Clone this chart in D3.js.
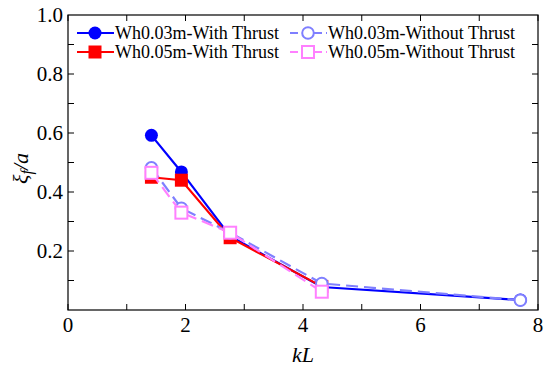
<!DOCTYPE html>
<html>
<head>
<meta charset="utf-8">
<script src="https://cdn.jsdelivr.net/npm/d3@7"></script>
</head>
<body style="margin:0;background:#fff">
<div id="chart"></div>
<script>
// data
var kL = [1.42, 1.93, 2.76, 4.32, 7.70];
var wh03With = [0.592, 0.468, 0.250, 0.078, 0.034];
var wh05With = [0.450, 0.440, 0.245, 0.080];
var wh03Without = [0.482, 0.345, 0.262, 0.090, 0.033];
var wh05Without = [0.465, 0.330, 0.262, 0.062];
var xTicks = [0, 2, 4, 6, 8];
var yTicks = [0.2, 0.4, 0.6, 0.8, 1.0];

var series = [
    {name: "Wh0.03m-With Thrust", vals: wh03With, color: "#0000ff", shape: "circle", filled: true, dash: null},
    {name: "Wh0.05m-With Thrust", vals: wh05With, color: "#ff0000", shape: "square", filled: true, dash: null},
    {name: "Wh0.03m-Without Thrust", vals: wh03Without, color: "#7f7fff", shape: "circle", filled: false, dash: "12,6"},
    {name: "Wh0.05m-Without Thrust", vals: wh05Without, color: "#ff80ff", shape: "square", filled: false, dash: "12,6"}
];

// serif text, forced inline
function serif(size, italic) {
    return "font-family: 'Liberation Serif', serif !important; font-size: " + size + "px !important;" +
        (italic ? " font-style: italic;" : "");
}

var margin = {top: 15, right: 12, bottom: 65, left: 68};
var width = 550 - margin.left - margin.right;
var height = 375 - margin.top - margin.bottom;

var svg = d3.select("#chart").append("svg")
    .attr("width", 550)
    .attr("height", 375)
    .append("g")
    .attr("transform", "translate(" + margin.left + "," + margin.top + ")");

//Scales
var x = d3.scaleLinear().domain([0, 8]).range([0, width]);
var y = d3.scaleLinear().domain([0, 1]).range([height, 0]);

//Frame
svg.append("rect")
    .attr("width", width)
    .attr("height", height)
    .style("fill", "none")
    .style("stroke", "#000")
    .style("stroke-width", 1.2);

//Inward ticks on all four sides
function ticks(vals, len, isX) {
    vals.forEach(function(v) {
        if (isX) {
            svg.append("line").attr("x1", x(v)).attr("x2", x(v)).attr("y1", height).attr("y2", height - len).style("stroke", "#000");
            svg.append("line").attr("x1", x(v)).attr("x2", x(v)).attr("y1", 0).attr("y2", len).style("stroke", "#000");
        } else {
            svg.append("line").attr("y1", y(v)).attr("y2", y(v)).attr("x1", 0).attr("x2", len).style("stroke", "#000");
            svg.append("line").attr("y1", y(v)).attr("y2", y(v)).attr("x1", width).attr("x2", width - len).style("stroke", "#000");
        }
    });
}
ticks(d3.range(0, 9, 1), 6, true);
ticks(d3.range(0.1, 1.0, 0.1), 6, false);

//Tick labels
svg.selectAll(".xlab").data(xTicks).enter().append("text")
    .attr("style", serif(21))
    .attr("x", function(d) { return x(d); })
    .attr("y", height + 22)
    .attr("text-anchor", "middle")
    .text(function(d) { return d; });

svg.selectAll(".ylab").data(yTicks).enter().append("text")
    .attr("style", serif(21))
    .attr("x", -5)
    .attr("y", function(d) { return y(d) + 7; })
    .attr("text-anchor", "end")
    .text(function(d) { return d.toFixed(1); });

//Axis titles
svg.append("text")
    .attr("style", serif(22, true))
    .attr("x", width / 2)
    .attr("y", height + 52)
    .attr("text-anchor", "middle")
    .text("kL");

var yt = svg.append("text")
    .attr("style", serif(22, true))
    .attr("transform", "translate(-40," + (height * 0.52) + ") rotate(-90)")
    .attr("text-anchor", "middle");
yt.append("tspan").text("ξ");
yt.append("tspan").attr("dy", 4).attr("style", serif(16, true)).text("f");
yt.append("tspan").attr("dy", -4).text("/a");

//Lines
var line = d3.line()
    .x(function(d) { return x(d[0]); })
    .y(function(d) { return y(d[1]); });

function drawMarker(g, s, cx, cy) {
    if (s.shape === "circle") {
        g.append("circle")
            .attr("cx", cx).attr("cy", cy)
            .attr("r", s.filled ? 6.5 : 5.8)
            .style("fill", s.filled ? s.color : "#fff")
            .style("stroke", s.color)
            .style("stroke-width", s.filled ? 0 : 2);
    } else {
        var sz = s.filled ? 13 : 12;
        g.append("rect")
            .attr("x", cx - sz / 2).attr("y", cy - sz / 2)
            .attr("width", sz).attr("height", sz)
            .style("fill", s.filled ? s.color : "#fff")
            .style("stroke", s.color)
            .style("stroke-width", s.filled ? 0 : 2);
    }
}

series.forEach(function(s) {
    var pts = s.vals.map(function(v, i) { return [kL[i], v]; });
    svg.append("path")
        .datum(pts)
        .attr("d", line)
        .style("fill", "none")
        .style("stroke", s.color)
        .style("stroke-width", 2.2)
        .style("stroke-dasharray", s.dash);
    var g = svg.append("g");
    pts.forEach(function(p) { drawMarker(g, s, x(p[0]), y(p[1])); });
});

//Legend
var legX = [9, 222];
var legY = [18, 37];
series.forEach(function(s, i) {
    var col = i < 2 ? 0 : 1;
    var row = i % 2;
    var lx = legX[col], ly = legY[row];
    var g = svg.append("g");
    g.append("line")
        .attr("x1", lx).attr("x2", lx + 37)
        .attr("y1", ly).attr("y2", ly)
        .style("stroke", s.color)
        .style("stroke-width", 2.2)
        .style("stroke-dasharray", s.dash ? "8,4" : null);
    drawMarker(g, s, lx + 18, ly);
    g.append("text")
        .attr("style", serif(18))
        .attr("x", lx + 38)
        .attr("y", ly + 6)
        .text(s.name);
});
</script>
</body>
</html>
